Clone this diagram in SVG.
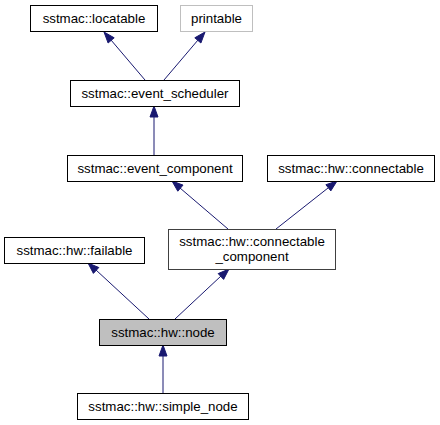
<svg xmlns="http://www.w3.org/2000/svg" width="440" height="425" viewBox="0 0 440 425">
<style>
.box{fill:#ffffff;stroke:#000000;stroke-width:1}
.t{font-family:"Liberation Sans",Arial,sans-serif;font-size:13.3px;text-anchor:middle;fill:#000000}
.e{stroke:#191970;stroke-width:1;fill:none}
.a{fill:#191970;stroke:#191970;stroke-width:1}
</style>
<rect width="440" height="425" fill="#ffffff"/>
<g id="edges">
<path class="e" d="M145,80 L111,40"/><polygon class="a" points="104,32 114.2,37.8 108.1,43"/>
<path class="e" d="M164,80 L198,40"/><polygon class="a" points="205,32 200.9,43 194.8,37.8"/>
<path class="e" d="M154,155 L154,117"/><polygon class="a" points="154,106 158,117 150,117"/>
<path class="e" d="M228,229 L180,188"/><polygon class="a" points="172,181 183,185.1 177.8,191.2"/>
<path class="e" d="M276,229 L328,188"/><polygon class="a" points="337,181 330.8,190.9 325.9,184.7"/>
<path class="e" d="M149,319 L96,270"/><polygon class="a" points="88,263 98.8,267.5 93.4,273.4"/>
<path class="e" d="M175,319 L221,276"/><polygon class="a" points="229,269 223.6,279.4 218.2,273.6"/>
<path class="e" d="M163,393 L163,356"/><polygon class="a" points="163,345 167,356 159,356"/>
</g>
<g id="locatable"><rect class="box" x="30.5" y="5.5" width="127" height="26"/><text class="t" x="94" y="23">sstmac::locatable</text></g>
<g id="printable"><rect class="box" x="180.5" y="5.5" width="72" height="26" style="stroke:#bfbfbf"/><text class="t" x="216.5" y="23">printable</text></g>
<g id="event_scheduler"><rect class="box" x="70.5" y="80.5" width="169" height="26"/><text class="t" x="155" y="98">sstmac::event_scheduler</text></g>
<g id="event_component"><rect class="box" x="67.5" y="155.5" width="175" height="26"/><text class="t" x="155" y="173">sstmac::event_component</text></g>
<g id="connectable"><rect class="box" x="267.5" y="155.5" width="167" height="26"/><text class="t" x="351" y="173">sstmac::hw::connectable</text></g>
<g id="failable"><rect class="box" x="4.5" y="237.5" width="140" height="26"/><text class="t" x="74.5" y="255">sstmac::hw::failable</text></g>
<g id="connectable_component"><rect class="box" x="168.5" y="229.5" width="167" height="40" style="stroke:#404040"/><text class="t" x="252" y="246">sstmac::hw::connectable</text><text class="t" x="252" y="261">_component</text></g>
<g id="node"><rect class="box" x="99.5" y="319.5" width="127" height="26" style="fill:#bfbfbf"/><text class="t" x="163" y="337">sstmac::hw::node</text></g>
<g id="simple_node"><rect class="box" x="77.5" y="393.5" width="171" height="26"/><text class="t" x="163" y="411">sstmac::hw::simple_node</text></g>
</svg>
